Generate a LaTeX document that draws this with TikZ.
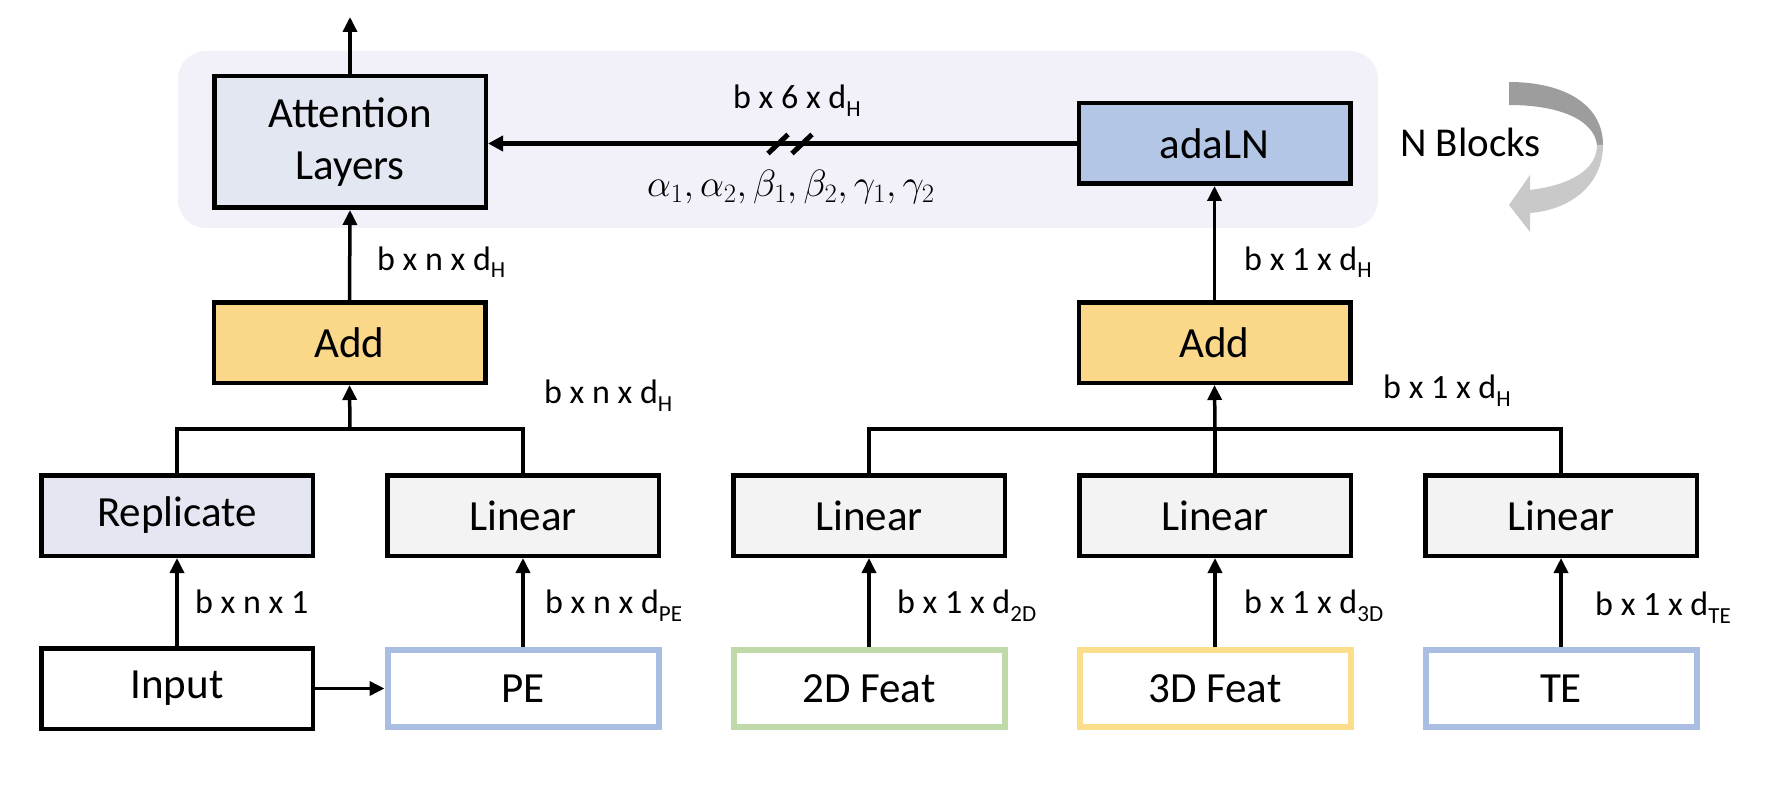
\RequirePackage{fix-cm}
\documentclass[tikz,border=0pt]{standalone}
\usepackage{fontspec}
\setmainfont{Carlito}
\usetikzlibrary{arrows.meta,calc}
\definecolor{bgc}{HTML}{F2F1FA}
\definecolor{attc}{HTML}{E3E7F2}
\definecolor{adac}{HTML}{B4C6E6}
\definecolor{addc}{HTML}{FBD78A}
\definecolor{linc}{HTML}{F2F3F2}
\definecolor{repc}{HTML}{E4E7F1}
\definecolor{blueb}{HTML}{A9BEE0}
\definecolor{greenb}{HTML}{C0D9A8}
\definecolor{yellowb}{HTML}{FBDE8C}
\definecolor{gdark}{HTML}{9D9D9D}
\definecolor{glight}{HTML}{C9C9C9}
\newcommand\lsub[1]{\raisebox{-8pt}{\fontsize{23}{23}\selectfont #1}}
\tikzset{
  blk/.style={draw=black, line width=4.5pt, minimum width=271.5pt, minimum height=80.5pt, inner sep=0pt,
    font=\fontsize{43}{52}\selectfont, align=center},
  colbox/.style={draw=#1, fill=white, line width=6pt, minimum width=271pt, minimum height=77pt, inner sep=0pt,
    font=\fontsize{43}{52}\selectfont},
  conn/.style={line width=3.5pt},
  arr/.style={line width=3.5pt, -{Triangle[length=15pt,width=14pt]}},
  lbl/.style={font=\fontsize{34}{40}\selectfont, anchor=base west, inner sep=0pt},
  slash/.style={line width=5pt},
}
\begin{document}
\begin{tikzpicture}[x=1pt,y=-1pt]
\useasboundingbox (0,0) rectangle (1766,786);
% background panel
\fill[bgc, rounded corners=28pt] (178,51) rectangle (1378,228);
% top row
\node[blk, fill=attc, minimum height=131.5pt] (att) at (350,142) {Attention\\Layers};
\node[blk, fill=adac] (ada) at (1214.5,143.5) {adaLN};
% add row
\node[blk, fill=addc] (addL) at (349.5,342.5) {Add};
\node[blk, fill=addc] (addR) at (1214.5,342.5) {Add};
% second row
\node[blk, fill=repc] (rep) at (177,515.5) {Replicate};
\node[blk, fill=linc] (linPE) at (523,515.5) {Linear};
\node[blk, fill=linc] (lin2) at (869,515.5) {Linear};
\node[blk, fill=linc] (lin3) at (1215,515.5) {Linear};
\node[blk, fill=linc] (linT) at (1561,515.5) {Linear};
% bottom row
\node[blk, fill=white] (inp) at (177,688.5) {Input};
\node[colbox=blueb] (pe) at (523,688.5) {PE};
\node[colbox=greenb] (f2) at (869,688.5) {2D Feat};
\node[colbox=yellowb] (f3) at (1215,688.5) {3D Feat};
\node[colbox=blueb] (te) at (1561,688.5) {TE};
% coordinates
\coordinate (out) at (350,17);
\coordinate (jL) at (350,429);
\coordinate (jR) at (1215,429);
\coordinate (sl) at (790,143.5);
% connectors bottom
\draw[arr] (inp.east) -- (pe.west);
\draw[arr] (inp.north) -- (rep.south);
\draw[arr] (pe.north) -- (linPE.south);
\draw[arr] (f2.north) -- (lin2.south);
\draw[arr] (f3.north) -- (lin3.south);
\draw[arr] (te.north) -- (linT.south);
% merges
\draw[conn] (rep.north) -- (rep.north |- jL) -- (linPE.north |- jL) -- (linPE.north);
\draw[arr] (jL) -- (addL.south);
\draw[conn] (lin2.north) -- (lin2.north |- jR) -- (linT.north |- jR) -- (linT.north);
\draw[conn] (lin3.north) -- (jR);
\draw[arr] (jR) -- (addR.south);
% upper
\draw[arr] (addL.north) -- (att.south);
\draw[arr] (addR.north) -- (ada.south);
\draw[arr] (att.north) -- (out);
\draw[line width=5pt, -{Triangle[length=15pt,width=15pt]}] (ada.west) -- (ada.west -| att.east);
\draw[slash] ($(sl)+(-22,10)$) -- ++(20,-19);
\draw[slash] ($(sl)+(2,10)$) -- ++(20,-19);
% labels
\node[lbl] (l6) at (733,109) {b x 6 x d\lsub{H}};
\node[anchor=base west, inner sep=0pt, font=\fontsize{38}{44}\selectfont] (lg) at (647,197) {$\alpha_1, \alpha_2, \beta_1, \beta_2, \gamma_1, \gamma_2$};
\node[anchor=base west, inner sep=0pt, font=\fontsize{41}{48}\selectfont] (nb) at (1400,157) {N Blocks};
\node[lbl] at (377,270) {b x n x d\lsub{H}};
\node[lbl] at (1244,270) {b x 1 x d\lsub{H}};
\node[lbl] at (544,403) {b x n x d\lsub{H}};
\node[lbl] at (1383,398) {b x 1 x d\lsub{H}};
\node[lbl] at (195,613) {b x n x 1};
\node[lbl] at (545,613) {b x n x d\lsub{PE}};
\node[lbl] at (897,613) {b x 1 x d\lsub{2D}};
\node[lbl] at (1244,613) {b x 1 x d\lsub{3D}};
\node[lbl] at (1595,615) {b x 1 x d\lsub{TE}};
% curved arrow
\fill[gdark] (1509,82) .. controls (1565,82) and (1603,105) .. (1603,145) -- (1597,145) .. controls (1594,120) and (1560,105) .. (1509,105) -- cycle;
\fill[glight] (1603,145) .. controls (1603,185) and (1570,210) .. (1530,213) -- (1530,232) -- (1509,205) -- (1530,175) -- (1530,190) .. controls (1570,185) and (1597,170) .. (1597,145) -- cycle;
\end{tikzpicture}
\end{document}
